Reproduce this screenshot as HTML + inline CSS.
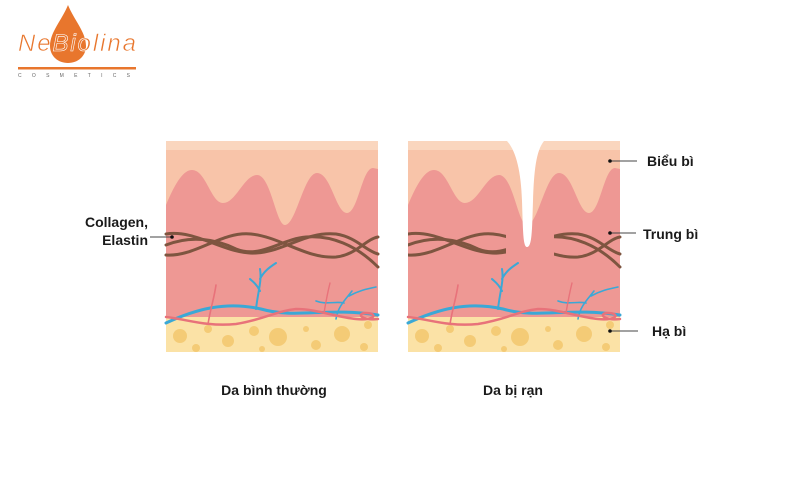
<!DOCTYPE html>
<html><head><meta charset="utf-8"><style>
body{margin:0;background:#fff;}
svg{display:block;}
text{font-family:"Liberation Sans",sans-serif;}
</style></head><body>
<svg width="800" height="500" viewBox="0 0 800 500" xmlns="http://www.w3.org/2000/svg">
<defs>
<g id="base">
  <rect x="0" y="0" width="212" height="211" fill="#F8C4A9"/>
  <rect x="0" y="0" width="212" height="9" fill="#FAD6BE"/>
  <path d="M0,64 C10,40 18,29 26,29 C40,29 45,62 57,62 C70,62 78,34 91,34 C105,34 110,84 119,84 C130,84 138,32 151,32 C165,32 170,72 181,72 C192,72 196,27 207,27 L212,28 L212,211 L0,211 Z" fill="#EE9894"/>
  <rect x="0" y="176" width="212" height="35" fill="#FBE2A6"/>
  <g fill="#F4CB76">
    <circle cx="14" cy="195" r="7"/><circle cx="42" cy="188" r="4"/><circle cx="62" cy="200" r="6"/><circle cx="88" cy="190" r="5"/>
    <circle cx="112" cy="196" r="9"/><circle cx="140" cy="188" r="3"/><circle cx="150" cy="204" r="5"/><circle cx="176" cy="193" r="8"/>
    <circle cx="202" cy="184" r="4"/><circle cx="30" cy="207" r="4"/><circle cx="96" cy="208" r="3"/><circle cx="198" cy="206" r="4"/>
  </g>
  <g fill="none" stroke-linecap="round">
    <path d="M0,182 C30,168 60,160 95,168 C130,178 160,166 212,174" stroke="#3BA8D6" stroke-width="3"/>
    <path d="M90,168 C92,150 96,140 94,128 M94,138 C98,130 104,126 110,122 M94,150 C90,142 86,140 84,138" stroke="#3BA8D6" stroke-width="2"/>
    <path d="M170,178 C172,165 180,158 186,150 M178,162 C170,160 160,164 150,160 M183,155 C192,150 200,148 210,146" stroke="#3BA8D6" stroke-width="1.6"/>
    <path d="M0,176 C20,178 40,186 70,183 C100,178 110,170 130,168 C150,168 170,176 190,178 C210,180 212,172 200,172 C190,172 195,180 212,178" stroke="#E8727A" stroke-width="2.5"/>
    <path d="M42,183 C45,165 48,158 50,144" stroke="#E8727A" stroke-width="1.6"/>
    <path d="M158,172 C160,160 162,150 164,142" stroke="#E8727A" stroke-width="1.4"/>
  </g>
</g>
<g id="fibL" fill="none" stroke="#7E5540" stroke-width="3" stroke-linecap="round">
  <path d="M0,93 C30,88 60,114 90,112 C120,110 140,90 170,93 C190,96 200,110 212,113"/>
  <path d="M0,114 C30,116 55,90 85,93 C115,96 140,118 170,116 C190,114 200,98 212,96"/>
  <path d="M0,104 C25,94 50,98 70,108 C95,118 115,98 140,96 C165,94 190,104 212,126"/>
</g>
</defs>

<path d="M68,5 C62,20 50,32 50,46 C50,56 58,63 68,63 C78,63 86,56 86,46 C86,32 74,20 68,5 Z" fill="#E8762D"/>
<text x="18" y="51" font-family="Liberation Serif,serif" font-style="italic" font-size="24" fill="#E8762D" stroke="#fff" stroke-width="0.6" textLength="118">NeBiolina</text>
<rect x="18" y="67" width="118" height="2.5" fill="#E8762D"/>
<text x="18" y="77" font-size="5" fill="#666" textLength="118" letter-spacing="6">COSMETICS</text>

<g transform="translate(166,141)">
  <use href="#base"/>
  <use href="#fibL"/>
</g>
<g transform="translate(408,141)">
  <use href="#base"/>
  <clipPath id="cl"><rect x="0" y="80" width="98" height="60"/><rect x="146" y="80" width="70" height="60"/></clipPath>
  <use href="#fibL" clip-path="url(#cl)"/>
  <path d="M99,0 C108,10 113,30 114,60 C115,90 115,106 119,106 C124,106 124,90 125,60 C126,30 128,10 136,0 Z" fill="#fff"/>
</g>

<g stroke="#444" stroke-width="1"><line x1="150" y1="237" x2="172" y2="237"/><line x1="610" y1="161" x2="637" y2="161"/><line x1="610" y1="233" x2="636" y2="233"/><line x1="610" y1="331" x2="638" y2="331"/></g>
<g fill="#111"><circle cx="172" cy="237" r="1.8"/><circle cx="610" cy="161" r="1.8"/><circle cx="610" cy="233" r="1.8"/><circle cx="610" cy="331" r="1.8"/></g>
<g font-size="14" font-weight="bold" fill="#1a1a1a">
  <text x="148" y="227" text-anchor="end">Collagen,</text>
  <text x="148" y="245" text-anchor="end">Elastin</text>
  <text x="647" y="166">Biểu bì</text>
  <text x="643" y="239">Trung bì</text>
  <text x="652" y="336">Hạ bì</text>
  <text x="274" y="395" text-anchor="middle">Da bình thường</text>
  <text x="513" y="395" text-anchor="middle">Da bị rạn</text>
</g>
</svg>
</body></html>
